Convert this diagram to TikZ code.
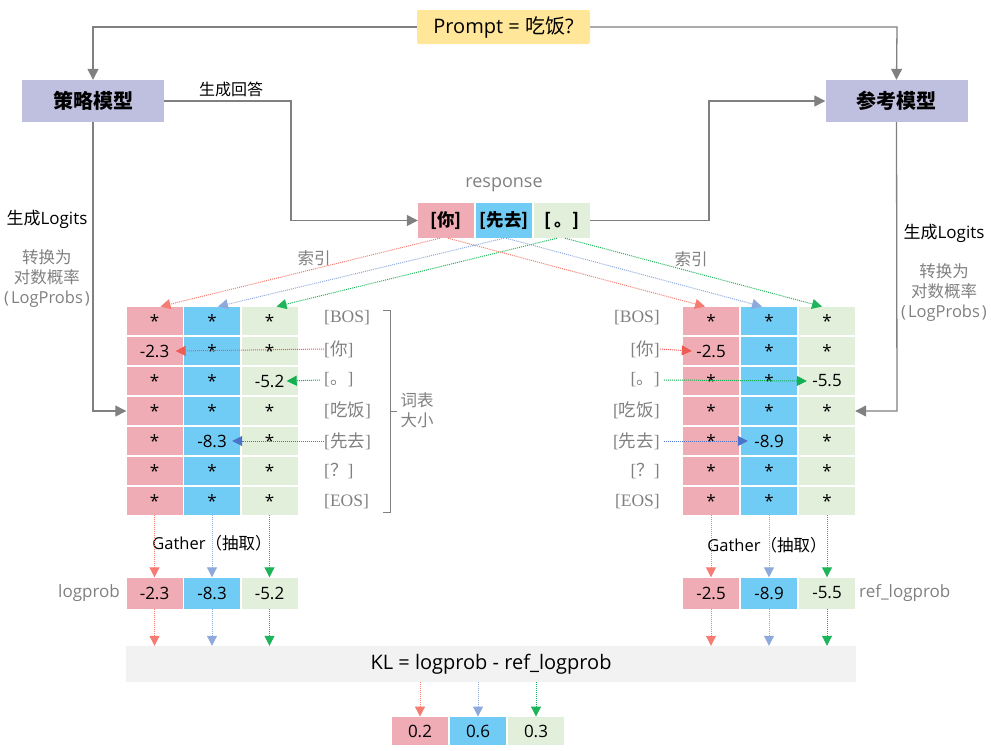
\documentclass[tikz,border=0pt]{standalone}
\usepackage{fontspec}
\setmainfont{Open Sans}
\newfontfamily\cjk{Noto Sans CJK SC}
\newfontfamily\serifL{Liberation Serif}
\usetikzlibrary{arrows.meta}
\definecolor{cpink}{HTML}{F0ACB5}
\definecolor{cblue}{HTML}{71CCF5}
\definecolor{cgreen}{HTML}{E2EFDA}
\definecolor{clav}{HTML}{BFBFDF}
\definecolor{cyel}{HTML}{FFE699}
\definecolor{ckl}{HTML}{F2F2F2}
\definecolor{cgray}{HTML}{808080}
\definecolor{tgray}{HTML}{808080}
\definecolor{ared}{HTML}{F47C72}
\definecolor{ablue}{HTML}{8EA9DB}
\definecolor{agreen}{HTML}{1EB55A}
\definecolor{ired}{HTML}{EE5B52}
\definecolor{iblue}{HTML}{4A72C8}
\definecolor{igreen}{HTML}{12B050}
\begin{document}
\begin{tikzpicture}[x=1pt,y=-1pt,
  every node/.style={inner sep=0pt, font=\fontsize{17}{20}\selectfont},
  cell/.style={minimum width=56pt, minimum height=28.5pt, inner sep=0pt},
  pc/.style={cell, fill=cpink},
  bc/.style={cell, fill=cblue},
  gc/.style={cell, fill=cgreen},
  model/.style={fill=clav, minimum width=142pt, minimum height=42pt, font=\fontsize{20}{22}\selectfont\cjk\bfseries},
  gline/.style={draw=cgray, line width=1.3pt},
  garrow/.style={gline, -{Triangle[length=11pt,width=11pt]}},
  dots/.style={line width=1pt, densely dotted, -{Triangle[length=10pt,width=10pt]}},
  vlab/.style={text=tgray, font=\fontsize{17.5}{19}\selectfont\serifL},
  glab/.style={text=tgray, font=\fontsize{17}{20}\selectfont},
]
\useasboundingbox (0,0) rectangle (991,750);

% top nodes
\node[fill=cyel, rounded corners=2pt, minimum width=173pt, minimum height=34pt, font=\fontsize{20}{22}\selectfont] (prompt) at (503.5,27) {Prompt = {\cjk 吃饭}?};
\node[model] (policy) at (93,101) {策略模型};
\node[model] (ref) at (896.5,101) {参考模型};

% response
\node[glab, font=\fontsize{18}{20}\selectfont] (resplab) at (504,185) {response};
\node[cell, fill=cpink, minimum height=35pt, font=\fontsize{17.5}{19}\selectfont\cjk\bfseries] (r1) at (446,220.5) {[你]};
\node[cell, fill=cblue, minimum height=35pt, font=\fontsize{17.5}{19}\selectfont\cjk\bfseries] (r2) at (504,220.5) {[先去]};
\node[cell, fill=cgreen, minimum height=35pt, font=\fontsize{17.5}{19}\selectfont\cjk\bfseries] (r3) at (562,220.5) {[\,。]};

% gray connectors
\coordinate (pL) at (93,27);
\coordinate (pR) at (897,27);
\draw[garrow] (prompt.west) -- (pL) -- (policy.north);
\draw[garrow] (prompt.east) -- (pR) -- (ref.north);
\draw[garrow] (policy.east) -- (291,101) -- (291,220.5) -- (r1.west);
\draw[garrow] (r3.east) -- (709,220.5) -- (709,101) -- (ref.west);
\node[font=\fontsize{16}{18}\selectfont\cjk] (gen) at (231,89) {生成回答};

% matrices
\foreach \r/\y/\a/\b/\c/\d/\e/\f in {1/321/*/*/*/*/*/*, 2/351/-2.3/*/*/-2.5/*/*, 3/381/*/*/-5.2/*/*/-5.5, 4/411/*/*/*/*/*/*, 5/441/*/-8.3/*/*/-8.9/*, 6/471/*/*/*/*/*/*, 7/501/*/*/*/*/*/*} {
  \node[pc] (L-\r-1) at (154.5,\y) {\a};
  \node[bc] (L-\r-2) at (212,\y) {\b};
  \node[gc] (L-\r-3) at (269.5,\y) {\c};
  \node[pc] (R-\r-1) at (711,\y) {\d};
  \node[bc] (R-\r-2) at (769,\y) {\e};
  \node[gc] (R-\r-3) at (827,\y) {\f};
}

% vocab labels
\node[vlab, anchor=west] (vL1) at (324,318) {[BOS]};
\node[vlab, anchor=west] (vL2) at (324,349) {[{\cjk 你}]};
\node[vlab, anchor=west] (vL3) at (324,380) {[{\cjk 。}]};
\node[vlab, anchor=west] (vL4) at (324,410) {[{\cjk 吃饭}]};
\node[vlab, anchor=west] (vL5) at (324,441) {[{\cjk 先去}]};
\node[vlab, anchor=west] (vL6) at (324,471) {[{\cjk ？}]};
\node[vlab, anchor=west] (vL7) at (324,502) {[EOS]};
\node[vlab, anchor=east] (vR1) at (660,318) {[BOS]};
\node[vlab, anchor=east] (vR2) at (660,349) {[{\cjk 你}]};
\node[vlab, anchor=east] (vR3) at (660,380) {[{\cjk 。}]};
\node[vlab, anchor=east] (vR4) at (660,410) {[{\cjk 吃饭}]};
\node[vlab, anchor=east] (vR5) at (660,441) {[{\cjk 先去}]};
\node[vlab, anchor=east] (vR6) at (660,471) {[{\cjk ？}]};
\node[vlab, anchor=east] (vR7) at (660,502) {[EOS]};

% bracket
\draw[draw=tgray, line width=1pt] (383,310) -- (390,310) -- (390,512) -- (383,512) (390,411) -- (397,411);
\node[glab, font=\fontsize{16.5}{20}\selectfont\cjk, align=left] (vocsize) at (417,410) {词表\\大小};

% model to matrix
\draw[garrow] (policy.south) -- (93,411) -- (L-4-1.west);
\draw[garrow] (ref.south) -- (897,411) -- (R-4-3.east);
\node[font=\fontsize{17}{20}\selectfont] (logitsL) at (47,219) {{\cjk 生成}Logits};
\node[glab, font=\fontsize{16.5}{20}\selectfont, align=center] (convL) at (47,279) {{\cjk 转换为}\\{\cjk 对数概率}\\(\kern2pt LogProbs\kern2pt)};
\node[font=\fontsize{17}{20}\selectfont] (logitsR) at (944,233) {{\cjk 生成}Logits};
\node[glab, font=\fontsize{16.5}{20}\selectfont, align=center] (convR) at (944,293) {{\cjk 转换为}\\{\cjk 对数概率}\\(\kern2pt LogProbs\kern2pt)};

% index arrows
\node[glab, font=\fontsize{16.5}{19}\selectfont\cjk] (idxL) at (314,258) {索引};
\node[glab, font=\fontsize{16.5}{19}\selectfont\cjk] (idxR) at (691,259) {索引};
\draw[dots, ared] ([xshift=-6pt]r1.south) -- ([xshift=6pt]L-1-1.north);
\draw[dots, ablue] ([xshift=0pt]r2.south) -- ([xshift=6pt]L-1-2.north);
\draw[dots, agreen] ([xshift=-5pt]r3.south) -- ([xshift=7pt]L-1-3.north);
\draw[dots, ared] ([xshift=2pt]r1.south) -- ([xshift=-6pt]R-1-1.north);
\draw[dots, ablue] ([xshift=2pt]r2.south) -- ([xshift=-7pt]R-1-2.north);
\draw[dots, agreen] ([xshift=3pt]r3.south) -- ([xshift=-5pt]R-1-3.north);

% inner lookup arrows
\draw[dots, ired] (vL2.west) -- ([xshift=-7pt]L-2-1.east);
\draw[dots, igreen] ([xshift=-4pt]vL3.west) -- ([xshift=-11pt]L-3-3.east);
\draw[dots, iblue] (vL5.west) -- ([xshift=-8pt]L-5-2.east);
\draw[dots, ired] (vR2.east) -- ([xshift=9pt]R-2-1.west);
\draw[dots, igreen] ([xshift=4pt]vR3.east) -- ([xshift=8pt]R-3-3.west);
\draw[dots, iblue] ([xshift=4pt]vR5.east) -- ([xshift=7pt]R-5-2.west);

% logprob rows
\node[pc, minimum height=31pt] (lp1) at (154.5,593) {-2.3};
\node[bc, minimum height=31pt] (lp2) at (212,593) {-8.3};
\node[gc, minimum height=31pt] (lp3) at (269.5,593) {-5.2};
\node[pc, minimum height=31pt] (rp1) at (711,593) {-2.5};
\node[bc, minimum height=31pt] (rp2) at (769,593) {-8.9};
\node[gc, minimum height=31pt] (rp3) at (827,593) {-5.5};
\node[glab, anchor=east] (lplab) at (120,593) {logprob};
\node[glab, anchor=west] (rplab) at (859,593) {ref\_logprob};

\node[font=\fontsize{16.5}{19}\selectfont] (gathL) at (212,543) {Gather{\cjk （抽取）}};
\node[font=\fontsize{16.5}{19}\selectfont] (gathR) at (767,545) {Gather{\cjk （抽取）}};

\draw[dots, ared] (L-7-1.south) -- (lp1.north);
\draw[dots, ablue] (L-7-2.south) -- (lp2.north);
\draw[dots, agreen] (L-7-3.south) -- (lp3.north);
\draw[dots, ared] (R-7-1.south) -- (rp1.north);
\draw[dots, ablue] (R-7-2.south) -- (rp2.north);
\draw[dots, agreen] (R-7-3.south) -- (rp3.north);

% KL
\node[fill=ckl, minimum width=730pt, minimum height=36pt, font=\fontsize{20}{22}\selectfont] (kl) at (491,664) {KL = logprob - ref\_logprob};
\draw[dots, ared] (lp1.south) -- (lp1.south |- kl.north);
\draw[dots, ablue] (lp2.south) -- (lp2.south |- kl.north);
\draw[dots, agreen] (lp3.south) -- (lp3.south |- kl.north);
\draw[dots, ared] (rp1.south) -- (rp1.south |- kl.north);
\draw[dots, ablue] (rp2.south) -- (rp2.south |- kl.north);
\draw[dots, agreen] (rp3.south) -- (rp3.south |- kl.north);

\node[pc] (k1) at (420,731) {0.2};
\node[bc] (k2) at (478,731) {0.6};
\node[gc] (k3) at (536,731) {0.3};
\draw[dots, ared] (k1.north |- kl.south) -- (k1.north);
\draw[dots, ablue] (k2.north |- kl.south) -- (k2.north);
\draw[dots, agreen] (k3.north |- kl.south) -- (k3.north);
\end{tikzpicture}
\end{document}
